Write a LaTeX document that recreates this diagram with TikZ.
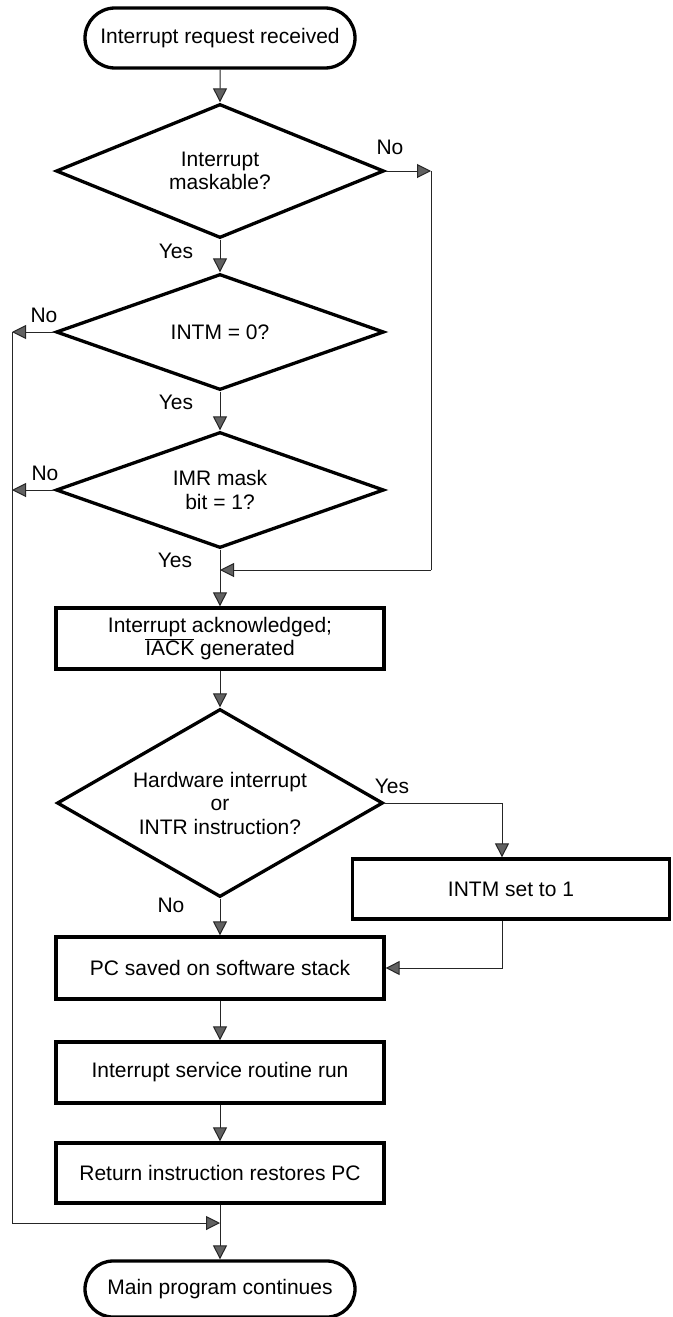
\documentclass[tikz,border=0pt]{standalone}
\usepackage{fontspec}
\setmainfont{Liberation Sans}
\usetikzlibrary{arrows.meta,shapes.geometric,shapes.misc,calc}
\begin{document}
\begin{tikzpicture}[x=1pt,y=-1pt,
  font=\fontsize{21}{23.5}\selectfont,
  every node/.style={inner sep=0pt, align=center},
  outline/.style={draw, line width=3.3pt},
  terminal/.style={outline, rounded rectangle, minimum width=270pt, minimum height=60pt},
  decision/.style={outline, diamond, aspect=2, minimum width=328pt},
  process/.style={outline, rectangle, minimum width=328pt, minimum height=61pt},
  flow/.style={line width=1pt, draw=black!85, -{Triangle[width=14pt,length=14pt,fill=black!62]}},
  link/.style={line width=1pt, draw=black!85}
]
\useasboundingbox[fill=white] (0,0) rectangle (672,1317);

% main column
\node[terminal] (start) at (220,38) {Interrupt request received};
\node[decision, minimum height=134pt] (d1) at (220,171) {Interrupt\\maskable?};
\node[decision, minimum height=116pt] (d2) at (220,332) {INTM = 0?};
\node[decision, minimum height=116pt] (d3) at (220,490) {IMR mask\\bit = 1?};
\node[process] (ack) at (220,638.5) {Interrupt acknowledged;\\\ensuremath{\overline{\mbox{IACK}}} generated};
\node[decision, minimum width=326pt, minimum height=188pt] (d4) at (220,803) {Hardware interrupt\\or\\INTR instruction?};
\node[process, minimum width=317pt, minimum height=60pt] (intm) at (511,889) {INTM set to 1};
\node[process, minimum height=62pt] (pc) at (220,968) {PC saved on software stack};
\node[process] (isr) at (220,1072.5) {Interrupt service routine run};
\node[process, minimum height=60pt] (ret) at (220,1173) {Return instruction restores PC};
\node[terminal, minimum height=56pt] (done) at (220,1289) {Main program continues};

% loop corners and junctions
\coordinate (r1) at (431,171);
\coordinate (r2) at (431,570);
\coordinate (j1) at (220,570);
\coordinate (l2) at (12,332);
\coordinate (l3) at (12,490);
\coordinate (l9) at (12,1223);
\coordinate (j2) at (220,1223);

% main flow
\draw[flow] (start) -- (d1);
\draw[flow] (d1) -- (d2);
\draw[flow] (d2) -- (d3);
\draw[flow] (d3) -- (ack);
\draw[flow] (ack) -- (d4);
\draw[flow] (d4) -- (pc);
\draw[flow] (pc) -- (isr);
\draw[flow] (isr) -- (ret);
\draw[flow] (ret) -- (done);

% non-maskable bypass
\draw[flow] (d1.east) -- (r1);
\draw[link] (r1) -- (r2);
\draw[flow] (r2) -- (j1);

% masked interrupt: skip to the main program
\draw[flow] (d2.west) -- (l2);
\draw[flow] (d3.west) -- (l3);
\draw[link] (l2) -- (l9);
\draw[flow] (l9) -- (j2);

% hardware / INTR branch
\draw[flow] (d4.east) -| ([xshift=-9pt]intm.north);
\draw[flow] ([xshift=-9pt]intm.south) |- (pc.east);

% branch labels
\node at (390,147) {No};
\node at (176,251) {Yes};
\node at (44,315) {No};
\node at (176,402) {Yes};
\node at (45,473) {No};
\node at (175,560) {Yes};
\node at (392,786) {Yes};
\node at (171,905) {No};
\end{tikzpicture}
\end{document}
